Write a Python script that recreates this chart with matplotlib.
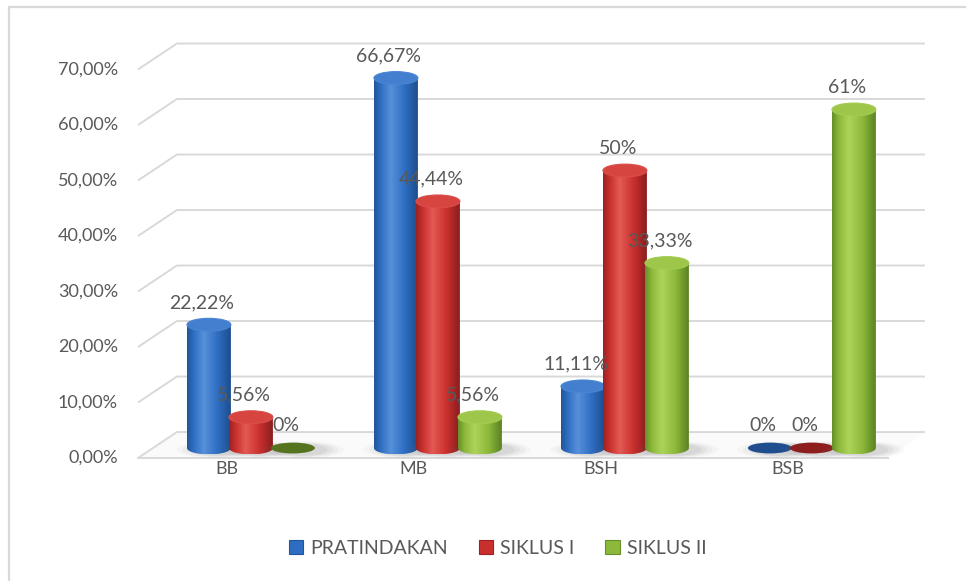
import numpy as np
import matplotlib
matplotlib.use("Agg")
import matplotlib.pyplot as plt
from matplotlib.patches import Ellipse, Polygon, Rectangle, PathPatch
from matplotlib.path import Path
from matplotlib.colors import to_rgb

plt.rcParams['font.family'] = ['Lato', 'DejaVu Sans']

# data
categories = ["BB", "MB", "BSH", "BSB"]
series_names = ["PRATINDAKAN", "SIKLUS I", "SIKLUS II"]
pratindakan = [22.22, 66.67, 11.11, 0]
siklus1 = [5.56, 44.44, 50, 0]
siklus2 = [0, 5.56, 33.33, 61]
label_pratindakan = ["22,22%", "66,67%", "11,11%", "0%"]
label_siklus1 = ["5,56%", "44,44%", "50%", "0%"]
label_siklus2 = ["0%", "5,56%", "33,33%", "61%"]
y_ticks = [0, 10, 20, 30, 40, 50, 60, 70]
y_tick_labels = ["0,00%", "10,00%", "20,00%", "30,00%", "40,00%", "50,00%", "60,00%", "70,00%"]

series = [pratindakan, siklus1, siklus2]
series_labels = [label_pratindakan, label_siklus1, label_siklus2]

# colours: (dark edge, mid, highlight)
palettes = [
    ("#22569C", "#2E6EC2", "#5790DA"),
    ("#9A2222", "#C9302D", "#E45A55"),
    ("#67902A", "#8DB83A", "#ADD45A"),
]
flat_colors = ["#1F4D8E", "#8E1E1E", "#56731F"]
text_col = "#595959"
grid_col = "#D9D9D9"

# layout (data units)
BAR_W = 0.235
BAR_STEP = 0.2246
CAP_H = 2.3
BACK_DY, BACK_X0, BACK_X1 = 2.88, -0.396, 3.604
FRONT_DY, FRONT_X0, FRONT_X1 = -1.8, -0.604, 3.406

fig = plt.figure(figsize=(9.66, 5.81), dpi=100)
ax = fig.add_axes([0, 0, 1, 1])
ax.axis('off')

# walls / grid
for v in y_ticks:
    ax.plot([FRONT_X0, BACK_X0, BACK_X1], [v + FRONT_DY, v + BACK_DY, v + BACK_DY],
            color=grid_col, lw=1.4, zorder=1, solid_capstyle='butt')
ax.plot([FRONT_X0, FRONT_X1], [FRONT_DY, FRONT_DY], color=grid_col, lw=1.4, zorder=1)
floor = Polygon([(FRONT_X0, FRONT_DY), (FRONT_X1, FRONT_DY), (BACK_X1, BACK_DY), (BACK_X0, BACK_DY)],
                closed=True, facecolor="#FAFAFA", edgecolor='none', zorder=0.5)
ax.add_patch(floor)

for v, lab in zip(y_ticks, y_tick_labels):
    ax.text(FRONT_X0 - 0.107, v + FRONT_DY, lab, ha='right', va='center',
            fontsize=13, color=text_col)

for i, cat in enumerate(categories):
    ax.text(i - 0.13, -3.7, cat, ha='center', va='center', fontsize=13, color=text_col)


def gradient(pal):
    dark, mid, hi = [np.array(to_rgb(c)) for c in pal]
    t = np.linspace(0, 1, 80)
    stops = [0.0, 0.15, 0.38, 0.7, 0.92, 1.0]
    cols = [dark, mid, hi, mid, dark, dark * 0.9]
    img = np.zeros((1, len(t), 3))
    for ch in range(3):
        img[0, :, ch] = np.interp(t, stops, [c[ch] for c in cols])
    return img


z = 3
for i in range(len(categories)):
    for s in range(3):
        val = series[s][i]
        xc = i + (s - 1) * BAR_STEP
        x0, x1 = xc - BAR_W / 2, xc + BAR_W / 2
        # soft shadow
        for k, a in enumerate([0.04, 0.06, 0.08, 0.1]):
            ax.add_patch(Ellipse((xc + 0.05, -0.3), BAR_W * (1.9 - 0.25 * k), CAP_H * (1.3 - 0.12 * k),
                                 facecolor="#777777", edgecolor='none', alpha=a, zorder=z))
        z += 0.1
        if val == 0:
            ax.add_patch(Ellipse((xc, 0), BAR_W, CAP_H * 0.85, facecolor=flat_colors[s],
                                 edgecolor='none', zorder=z))
        else:
            th = np.linspace(0, -np.pi, 40)
            verts = [(x0, val), (x1, val)] + \
                    list(zip(xc + BAR_W / 2 * np.cos(th), CAP_H / 2 * np.sin(th))) + [(x0, val)]
            clip = PathPatch(Path(verts), transform=ax.transData, facecolor='none', edgecolor='none')
            im = ax.imshow(gradient(palettes[s]), extent=(x0, x1, -CAP_H / 2, val),
                           aspect='auto', interpolation='bilinear', zorder=z)
            im.set_clip_path(clip)
            dark, mid, hi = [np.array(to_rgb(c)) for c in palettes[s]]
            ax.add_patch(Ellipse((xc, val), BAR_W, CAP_H, facecolor=mid * 0.5 + hi * 0.5,
                                 edgecolor=mid * 0.3 + hi * 0.7, lw=0.8, zorder=z + 0.05))
        z += 0.2
        ax.annotate(series_labels[s][i], (xc, val), xytext=(-5, 16), textcoords='offset points',
                    ha='center', va='center', fontsize=14, color=text_col, zorder=20)

ax.set_xlim(-1.342, 3.824)
ax.set_ylim(-23.96, 80.72)

# legend
handles = [Rectangle((0, 0), 1, 1, facecolor=p[1], edgecolor=p[0], lw=0.8) for p in palettes]
fig.legend(handles, series_names, loc='center', bbox_to_anchor=(0.515, 1 - 548 / 581), ncol=3,
           frameon=False, handlelength=0.75, handleheight=0.75, handletextpad=0.35,
           columnspacing=1.6, fontsize=14, labelcolor=text_col)

# outer border
fig.patches.append(Rectangle((9 / 966, -0.1), 1.2, 1.1 - 7 / 581, transform=fig.transFigure,
                             fill=False, edgecolor=grid_col, lw=1.6))

fig.savefig("out.png", dpi=100)
